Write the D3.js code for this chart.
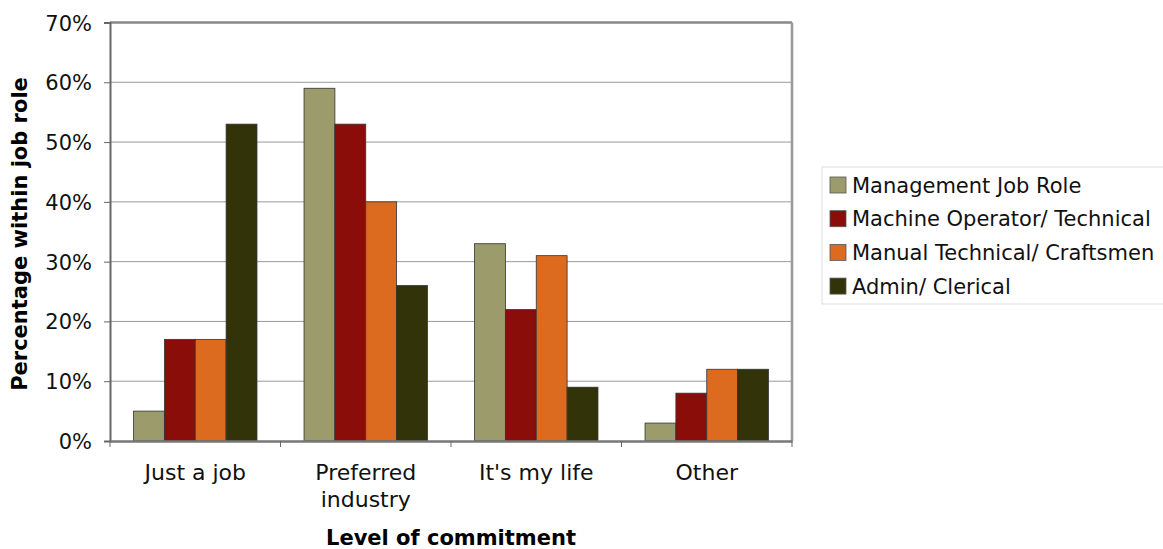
<!DOCTYPE html>
<meta charset="utf-8">
<style>
body { margin: 0; background: #fff; }
svg { font-family: "DejaVu Sans", Verdana, sans-serif; }
.grid line { stroke: #999; stroke-width: 1px; }
.bar { stroke: #333; stroke-width: 0.8px; }
.title { font-size: 21px; font-weight: bold; fill: #000; }
.legend text { font-size: 21px; fill: #111; }
</style>
<svg width="1163" height="549"></svg>
<script src="https://cdn.jsdelivr.net/npm/d3@7"></script>
<script>

// data
var categories = ["Just a job", "Preferred industry", "It's my life", "Other"];
var series = ["Management Job Role", "Machine Operator/ Technical", "Manual Technical/ Craftsmen", "Admin/ Clerical"];
var management = [5, 59, 33, 3];
var machineOperator = [17, 53, 22, 8];
var manualTechnical = [17, 40, 31, 12];
var admin = [53, 26, 9, 12];
var yTicks = [0, 10, 20, 30, 40, 50, 60, 70];

var values = [management, machineOperator, manualTechnical, admin];
var colors = ["#9b9b6b", "#8a0d09", "#dc6b1f", "#33330a"];

var svg = d3.select("svg");
var margin = {top: 22.5, right: 371, bottom: 108, left: 110};
var width = +svg.attr("width") - margin.left - margin.right;
var height = +svg.attr("height") - margin.top - margin.bottom;

var g = svg.append("g").attr("transform", "translate(" + margin.left + "," + margin.top + ")");

var x0 = d3.scaleBand().domain(categories).range([0, width]).padding(0);
var gap = x0.bandwidth() * 0.138;
var x1 = d3.scaleBand().domain(d3.range(series.length)).range([gap, x0.bandwidth() - gap]).padding(0);
var y = d3.scaleLinear().domain([0, 70]).range([height, 0]);

// gridlines
g.append("g")
    .attr("class", "grid")
    .selectAll("line")
    .data(yTicks.slice(1, -1))
    .enter().append("line")
    .attr("x1", 0)
    .attr("x2", width)
    .attr("y1", function(d) { return y(d); })
    .attr("y2", function(d) { return y(d); });

// bars
var groups = g.selectAll(".group")
    .data(categories)
    .enter().append("g")
    .attr("class", "group")
    .attr("transform", function(d) { return "translate(" + x0(d) + ",0)"; });

groups.selectAll("rect")
    .data(function(d, i) { return values.map(function(v, s) { return {s: s, v: v[i]}; }); })
    .enter().append("rect")
    .attr("class", "bar")
    .attr("x", function(d) { return x1(d.s); })
    .attr("width", x1.bandwidth())
    .attr("y", function(d) { return y(d.v); })
    .attr("height", function(d) { return height - y(d.v); })
    .attr("fill", function(d) { return colors[d.s]; });

// frame: top and right
g.append("line").attr("x1", 0).attr("x2", width).attr("y1", 0).attr("y2", 0)
    .attr("stroke", "#888").attr("stroke-width", 2.5);
g.append("line").attr("x1", width).attr("x2", width).attr("y1", 0).attr("y2", height)
    .attr("stroke", "#999").attr("stroke-width", 2.5);

// y axis
var yAxis = g.append("g")
    .attr("font-size", 21)
    .attr("font-family", null)
    .call(d3.axisLeft(y).tickValues(yTicks).tickFormat(function(d) { return d + "%"; }).tickSize(6).tickPadding(12));
yAxis.attr("font-size", 21).attr("font-family", null);
yAxis.select(".domain").attr("stroke", "#666").attr("stroke-width", 2);
yAxis.selectAll(".tick line").attr("stroke", "#666");
yAxis.selectAll(".tick text").attr("dy", "0.36em").attr("fill", "#111");

// x axis
var xAxis = g.append("g")
    .attr("transform", "translate(0," + height + ")")
    .call(d3.axisBottom(x0).tickSize(0).tickPadding(0));
xAxis.select(".domain").attr("stroke", "#777").attr("stroke-width", 2.5);
xAxis.selectAll(".tick text").remove();
xAxis.selectAll(".tick line").remove();

// boundary ticks
g.append("g").selectAll("line")
    .data(d3.range(categories.length + 1))
    .enter().append("line")
    .attr("x1", function(d) { return d * x0.step(); })
    .attr("x2", function(d) { return d * x0.step(); })
    .attr("y1", height)
    .attr("y2", height + 6)
    .attr("stroke", "#666");

// category labels, wrapped like the original
var wrapped = {"Preferred industry": ["Preferred", "industry"]};
var labels = g.append("g").selectAll("text")
    .data(categories)
    .enter().append("text")
    .attr("text-anchor", "middle")
    .attr("font-size", 22)
    .attr("fill", "#111")
    .attr("x", function(d) { return x0(d) + x0.bandwidth() / 2; })
    .attr("y", height + 39);
labels.each(function(d) {
    var lines = wrapped[d] || [d];
    var t = d3.select(this);
    lines.forEach(function(l, i) {
        t.append("tspan")
            .attr("x", x0(d) + x0.bandwidth() / 2)
            .attr("dy", i === 0 ? 0 : 27)
            .text(l);
    });
});

// axis titles
svg.append("text")
    .attr("class", "title")
    .attr("text-anchor", "middle")
    .attr("x", margin.left + width / 2)
    .attr("y", 545)
    .text("Level of commitment");

svg.append("text")
    .attr("class", "title")
    .attr("text-anchor", "middle")
    .attr("transform", "translate(27," + 234 + ") rotate(-90)")
    .text("Percentage within job role");

// legend
var legend = svg.append("g").attr("class", "legend").attr("transform", "translate(822,167)");
legend.append("rect")
    .attr("width", 345)
    .attr("height", 137)
    .attr("fill", "#fff")
    .attr("stroke", "#ddd");

var items = legend.selectAll(".item")
    .data(series)
    .enter().append("g")
    .attr("class", "item")
    .attr("transform", function(d, i) { return "translate(8," + (18 + i * 33.7) + ")"; });

items.append("rect")
    .attr("y", -8)
    .attr("width", 16)
    .attr("height", 16)
    .attr("fill", function(d, i) { return colors[i]; })
    .attr("stroke", "#555")
    .attr("stroke-width", 0.8);

items.append("text")
    .attr("x", 22)
    .attr("dy", "0.36em")
    .text(function(d) { return d; });

</script>
